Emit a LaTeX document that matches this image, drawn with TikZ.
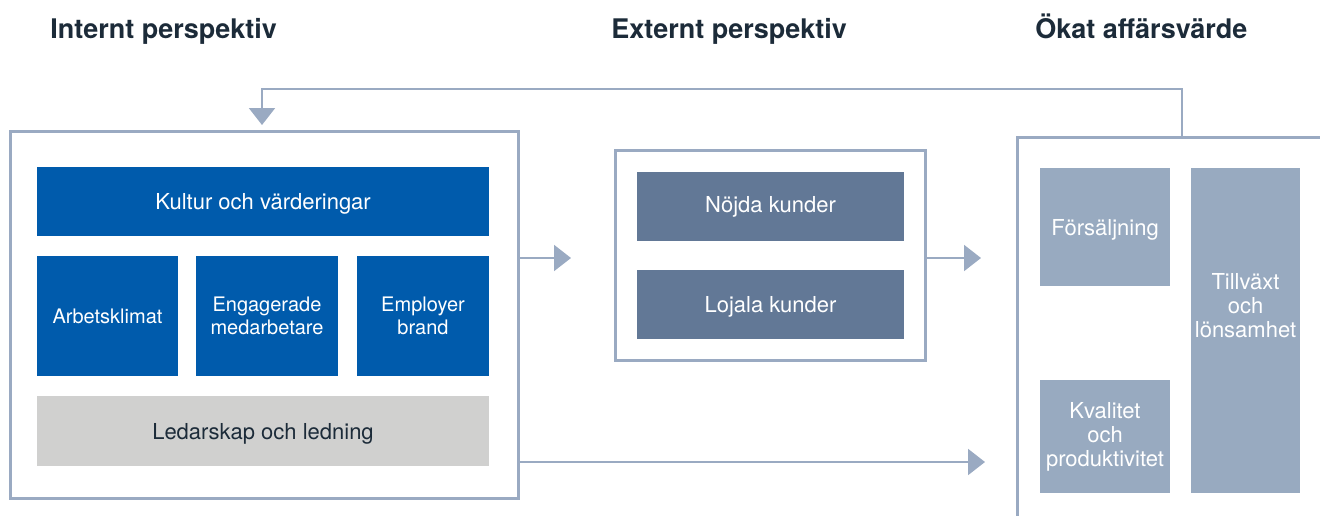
\documentclass[tikz,border=0pt]{standalone}
\usepackage{fontspec}
\setmainfont{TeX Gyre Heros}
\usetikzlibrary{arrows.meta}

\definecolor{kulturblue}{HTML}{005BAC}
\definecolor{kundslate}{HTML}{627896}
\definecolor{vardelight}{HTML}{98AAC0}
\definecolor{ledargray}{HTML}{D0D0CF}
\definecolor{framegray}{HTML}{9AAAC2}
\definecolor{headnavy}{HTML}{1C2B39}

\tikzset{
  box/.style={inner sep=0pt, text=white, align=center, font=\fontsize{11}{12}\selectfont},
  smallbox/.style={box, font=\fontsize{10}{11.5}\selectfont},
  frame/.style={draw=framegray, line width=1.5pt, inner sep=0pt},
  link/.style={draw=framegray, line width=1pt, -{Triangle[width=13pt,length=8.5pt]}},
  heading/.style={anchor=base west, inner sep=0pt, text=headnavy, font=\bfseries\fontsize{13.5}{15}\selectfont}
}

\begin{document}
\begin{tikzpicture}[x=0.5pt, y=-0.5pt]
    \useasboundingbox (0,0) rectangle (1320,515);

    % Headings
    \node[heading] (hInt) at (50,38) {Internt perspektiv};
    \node[heading] (hExt) at (611,38) {Externt perspektiv};
    \node[heading] (hVal) at (1035,38) {Ökat affärsvärde};

    % Internal perspective
    \node[frame, minimum width=254pt, minimum height=183.5pt] (frameInt) at (264,314.5) {};
    \node[box, fill=kulturblue, minimum width=226pt, minimum height=34.5pt, text depth=0pt] (kultur) at (263,201.5) {Kultur och värderingar};
    \node[smallbox, fill=kulturblue, minimum width=70.5pt, minimum height=60pt] (klimat) at (107.5,316) {Arbetsklimat};
    \node[smallbox, fill=kulturblue, minimum width=71pt, minimum height=60pt] (engag) at (267,316) {Engagerade\\medarbetare};
    \node[smallbox, fill=kulturblue, minimum width=66pt, minimum height=60pt] (brand) at (423,316) {Employer\\brand};
    \node[box, fill=ledargray, text=headnavy, minimum width=226pt, minimum height=35pt, text depth=0pt] (ledar) at (263,431) {Ledarskap och ledning};

    % External perspective
    \node[frame, minimum width=155pt, minimum height=105pt] (frameExt) at (770,255) {};
    \node[box, fill=kundslate, minimum width=133.5pt, minimum height=34.5pt] (nojda) at (770.5,206.5) {Nöjda kunder};
    \node[box, fill=kundslate, minimum width=133.5pt, minimum height=34.5pt, text depth=0pt] (lojala) at (770.5,304.5) {Lojala kunder};

    % Business value (frame runs off the page)
    \draw[draw=framegray, line width=1.5pt] (1017,520) -- (1017,137) -- (1325,137);
    \node[box, fill=vardelight, minimum width=65pt, minimum height=59pt, text depth=0pt] (salj) at (1105,227) {Försäljning};
    \node[box, fill=vardelight, minimum width=65pt, minimum height=56.5pt] (kval) at (1105,436.5) {Kvalitet\\och\\produktivitet};
    \node[box, fill=vardelight, minimum width=54.5pt, minimum height=162.5pt] (tillv) at (1245.5,330.5) {};
    \node[box] (tillvText) at (1245.5,306) {Tillväxt\\och\\lönsamhet};

    % Connectors
    \coordinate (inEnd) at (571,258);
    \coordinate (extEnd) at (981,258);
    \coordinate (valEnd) at (985,462);
    \coordinate (backTop) at (1182,137);
    \coordinate (backEnd) at (262,125);
    \draw[link] (frameInt.east |- inEnd) -- (inEnd);
    \draw[link] (frameExt.east |- extEnd) -- (extEnd);
    \draw[link] (frameInt.east |- valEnd) -- (valEnd);
    \draw[link] (backTop) -- ++(0,-48) -| (backEnd);
\end{tikzpicture}
\end{document}
